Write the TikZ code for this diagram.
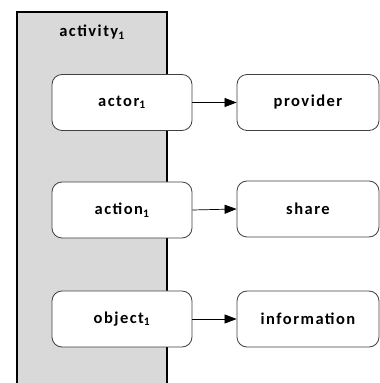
\documentclass[tikz,border=0pt]{standalone}
\usepackage{fontspec}
\setmainfont{Carlito}
\newfontfamily\boxfont[LetterSpace=9]{Carlito}
\usetikzlibrary{arrows.meta}

\begin{document}
\begin{tikzpicture}[x=1pt,y=1pt,
  elem/.style={draw=black!75,line width=0.8pt,rounded corners=10pt,fill=white,
    minimum height=56pt,font=\boxfont\bfseries\fontsize{16.5}{19}\selectfont},
  leftelem/.style={elem,minimum width=140pt},
  rightelem/.style={elem,minimum width=142pt},
  link/.style={-{Triangle[length=12pt,width=9pt]},line width=0.7pt}]
\useasboundingbox (0,0) rectangle (380,383);
\clip (0,0) rectangle (380,383);
\draw[fill=black!15,line width=1.5pt] (17,-10) rectangle (167,371);
\node[font=\boxfont\bfseries\fontsize{16.5}{19}\selectfont] (activity) at (92,351) {activity\textsubscript{1}};
\node[leftelem] (actor) at (122,280.5) {actor\textsubscript{1}};
\node[leftelem] (action) at (122,173) {action\textsubscript{1}};
\node[leftelem] (object) at (122,64) {object\textsubscript{1}};
\node[rightelem] (provider) at (308,280.5) {provider};
\node[rightelem] (share) at (308,174) {share};
\node[rightelem] (information) at (308,64) {information};
\draw[link] (actor) -- (provider);
\draw[link] (action.east) -- (share.west);
\draw[link] (object) -- (information);
\end{tikzpicture}
\end{document}
